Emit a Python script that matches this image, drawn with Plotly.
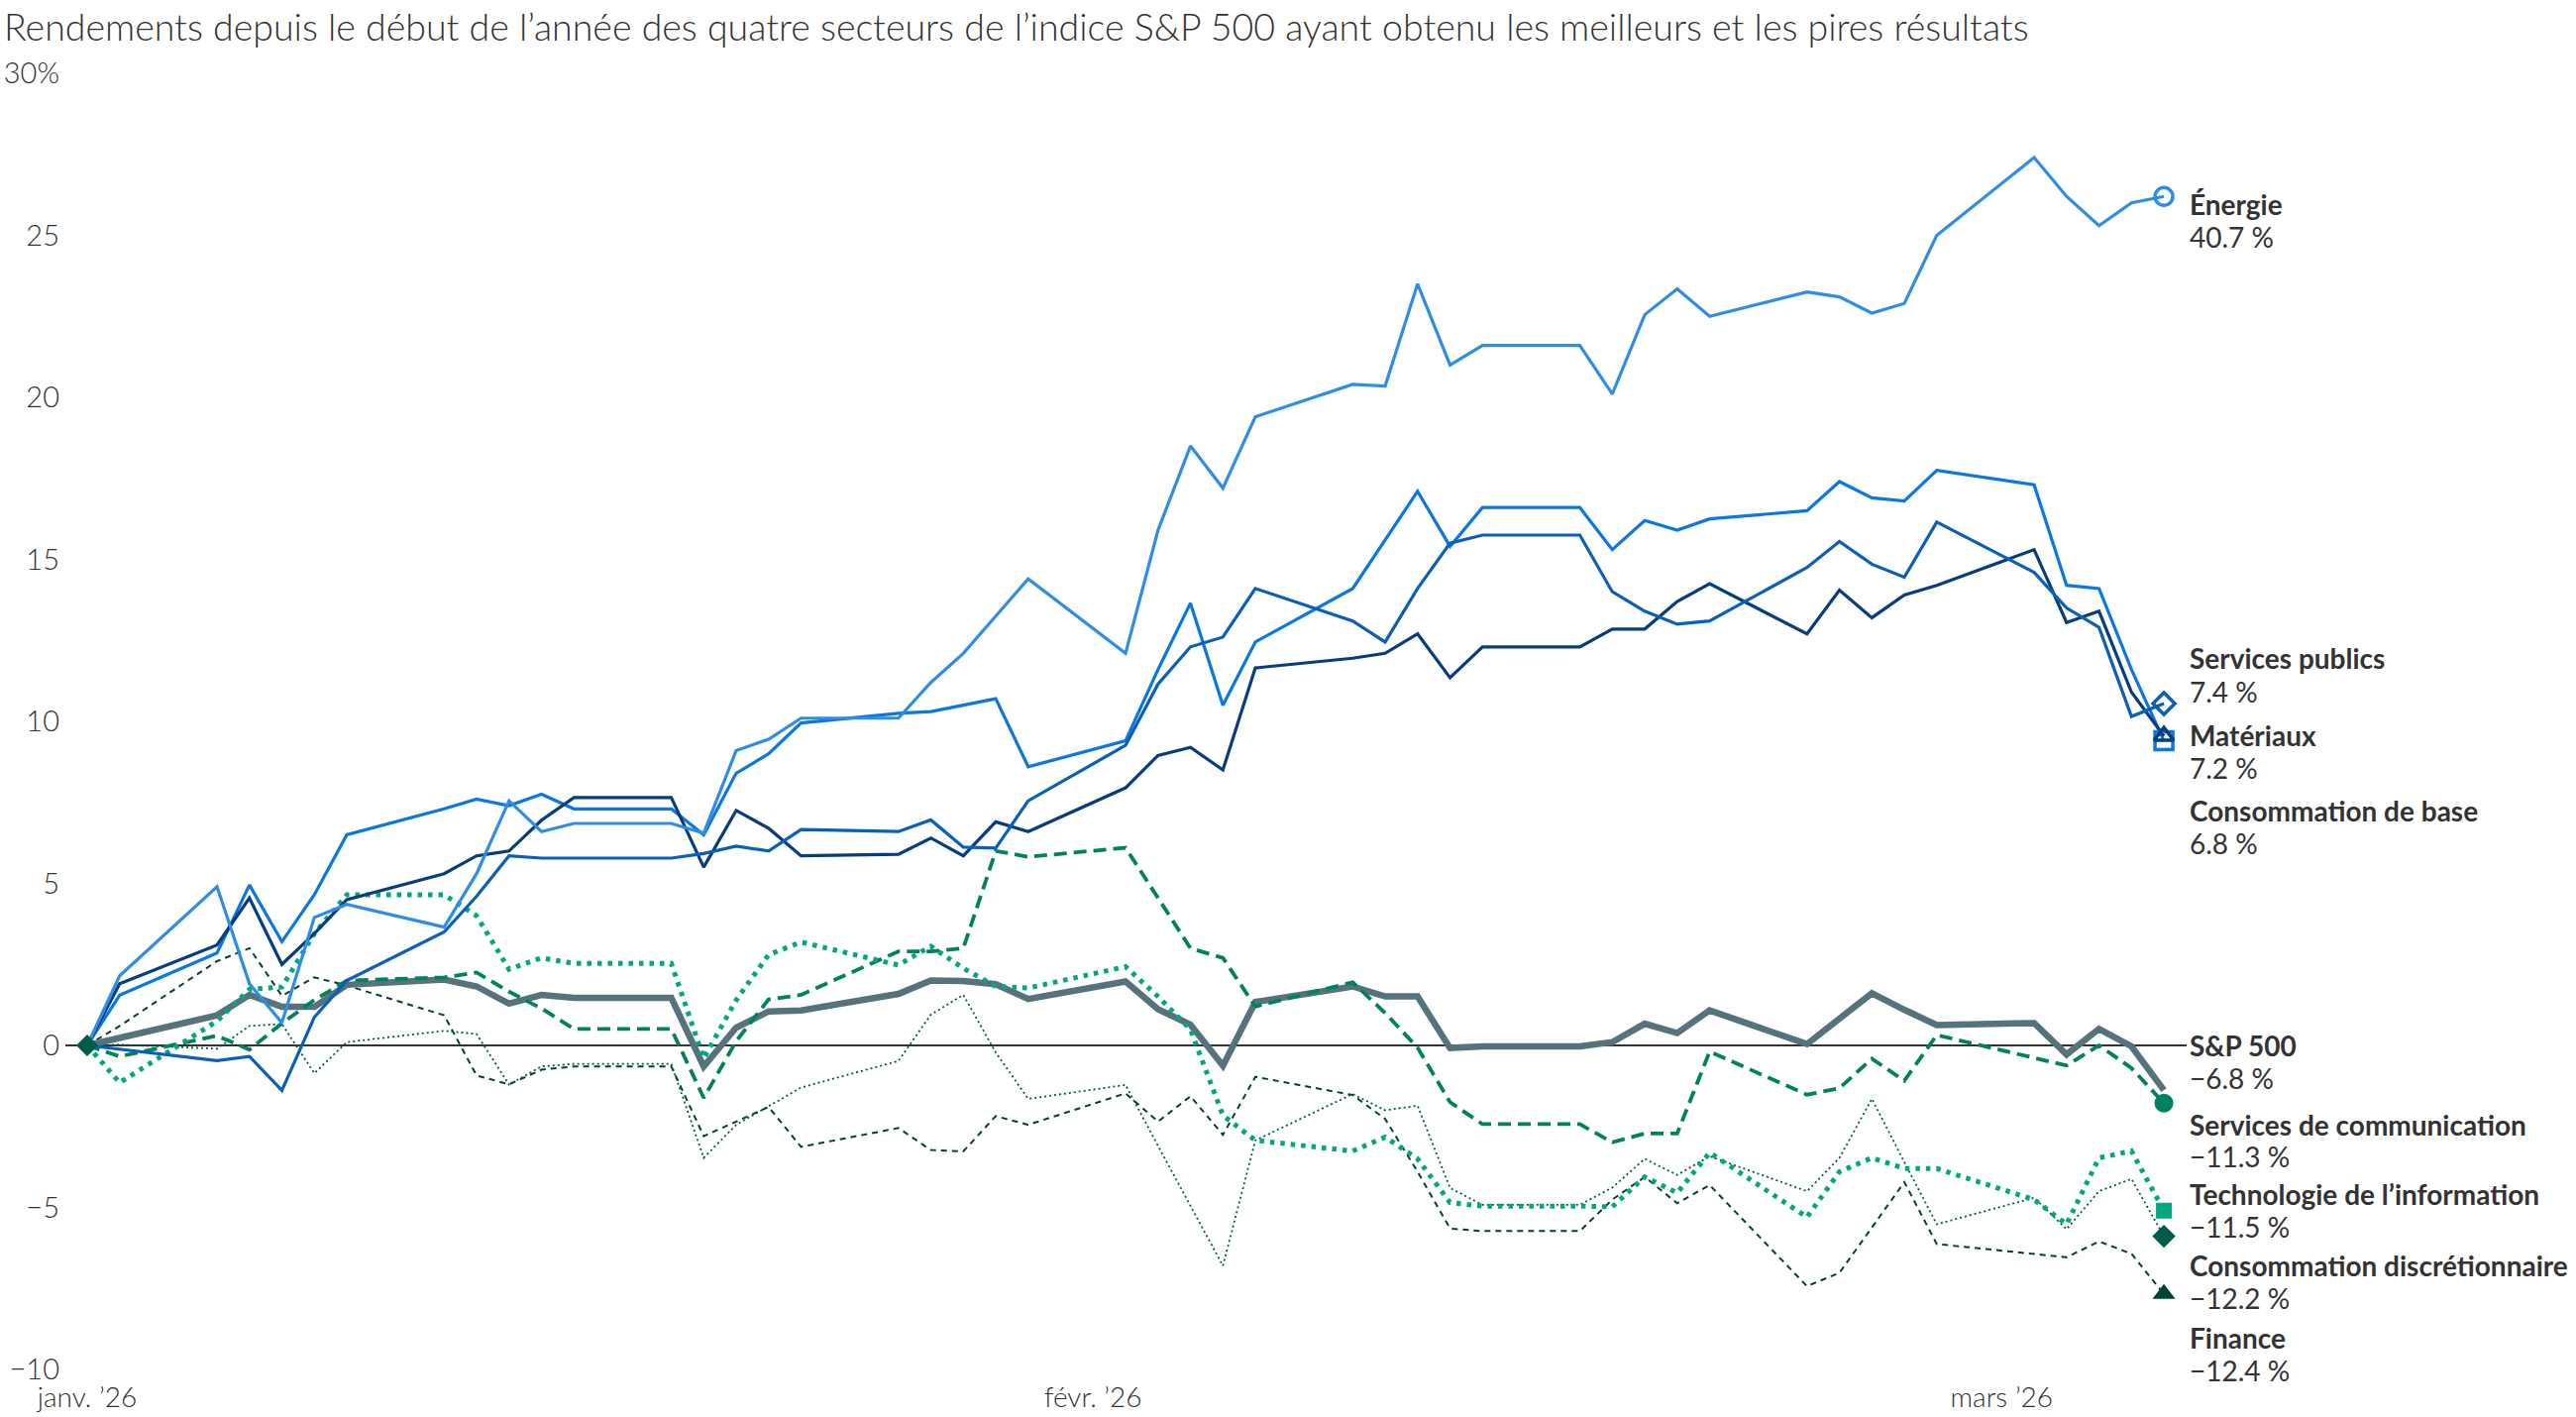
import plotly.graph_objects as go

# ---------------- data ----------------
dates = [
    "2026-01-01", "2026-01-02", "2026-01-05", "2026-01-06", "2026-01-07", "2026-01-08", "2026-01-09",
    "2026-01-12", "2026-01-13", "2026-01-14", "2026-01-15", "2026-01-16",
    "2026-01-19", "2026-01-20", "2026-01-21", "2026-01-22", "2026-01-23",
    "2026-01-26", "2026-01-27", "2026-01-28", "2026-01-29", "2026-01-30",
    "2026-02-02", "2026-02-03", "2026-02-04", "2026-02-05", "2026-02-06",
    "2026-02-09", "2026-02-10", "2026-02-11", "2026-02-12", "2026-02-13",
    "2026-02-16", "2026-02-17", "2026-02-18", "2026-02-19", "2026-02-20",
    "2026-02-23", "2026-02-24", "2026-02-25", "2026-02-26", "2026-02-27",
    "2026-03-02", "2026-03-03", "2026-03-04", "2026-03-05", "2026-03-06",
]

energie = [0, 2.15, 4.9, 1.9, 0.7, 3.95, 4.35, 3.65, 5.3, 7.55, 6.6, 6.85, 6.85, 6.55, 9.1, 9.45,
           10.1, 10.1, 11.2, 12.1, 13.25, 14.4,
           12.1, 15.9, 18.5, 17.2, 19.4, 20.4, 20.35, 23.5, 21.0, 21.6, 21.6, 20.1, 22.55, 23.35,
           22.5, 23.25, 23.1, 22.6, 22.9, 25.0,
           27.4, 26.2, 25.3, 26.0, 26.2]
conso_base = [0, 1.55, 2.85, 4.95, 3.2, 4.65, 6.5, 7.3, 7.6, 7.4, 7.75, 7.3, 7.3, 6.5, 8.4, 9.0,
              9.95, 10.25, 10.3, 10.5, 10.7, 8.6,
              9.4, 11.6, 13.65, 10.5, 12.45, 14.1, 15.6, 17.1, 15.4, 16.6, 16.6, 15.3, 16.2, 15.9,
              16.25, 16.5, 17.4, 16.9, 16.8, 17.75,
              17.3, 14.2, 14.1, 11.6, 9.4]
materiaux = [0, 1.9, 3.1, 4.55, 2.5, 3.45, 4.5, 5.3, 5.85, 6.0, 6.95, 7.65, 7.65, 5.5, 7.25, 6.7,
             5.85, 5.9, 6.4, 5.85, 6.9, 6.6,
             7.95, 8.95, 9.2, 8.5, 11.65, 11.95, 12.1, 12.7, 11.35, 12.3, 12.3, 12.85, 12.85, 13.7,
             14.25, 12.7, 14.05, 13.2, 13.9, 14.2,
             15.3, 13.05, 13.4, 10.9, 9.55]
services_publics = [0, -0.12, -0.47, -0.34, -1.39, 0.87, 2.0, 3.5, 4.6, 5.85, 5.78, 5.78, 5.78, 5.92,
                    6.15, 6.0, 6.66, 6.6, 6.96, 6.12, 6.09, 7.55,
                    9.26, 11.15, 12.3, 12.6, 14.1, 13.1, 12.45, 14.1, 15.5, 15.75, 15.75, 14.0, 13.4,
                    13.0, 13.1, 14.75, 15.55, 14.85, 14.45, 16.15,
                    14.6, 13.5, 12.9, 10.15, 10.55]
sp500 = [0, 0.22, 0.93, 1.56, 1.19, 1.19, 1.87, 2.03, 1.82, 1.29, 1.56, 1.47, 1.47, -0.65, 0.55, 1.05,
         1.08, 1.59, 2.0, 1.99, 1.89, 1.43,
         1.97, 1.12, 0.64, -0.63, 1.34, 1.82, 1.51, 1.51, -0.08, -0.03, -0.03, 0.1, 0.67, 0.38,
         1.08, 0.04, 0.82, 1.61, 1.1, 0.63,
         0.69, -0.28, 0.51, -0.03, -1.38]
services_comm = [0, -0.34, 0.3, -0.13, 0.68, 1.4, 2.0, 2.1, 2.25, 1.66, 1.14, 0.51, 0.51, -1.62, 0.13,
                 1.42, 1.56, 2.9, 2.9, 3.0, 6.0, 5.82,
                 6.1, 4.55, 3.0, 2.7, 1.2, 1.95, 1.0, -0.07, -1.75, -2.43, -2.43, -2.99, -2.72, -2.72,
                 -0.19, -1.52, -1.32, -0.41, -1.09, 0.32,
                 -0.4, -0.62, 0.0, -0.7, -1.78]
technologie = [0, -1.15, 0.75, 1.73, 1.8, 3.45, 4.65, 4.65, 4.0, 2.35, 2.7, 2.53, 2.53, -0.4, 1.4, 2.8,
               3.19, 2.48, 3.06, 2.38, 1.82, 1.77,
               2.43, 1.51, 0.49, -2.16, -2.93, -3.26, -2.83, -3.5, -4.85, -4.96, -4.96, -4.98, -4.06,
               -4.55, -3.31, -5.3, -3.9, -3.47, -3.8, -3.8,
               -4.76, -5.52, -3.47, -3.26, -5.1]
conso_discr = [0, 0.02, -0.1, 0.6, 0.66, -0.86, 0.1, 0.45, 0.35, -1.21, -0.65, -0.57, -0.57, -3.47,
               -2.45, -1.88, -1.3, -0.48, 0.95, 1.56, -0.22, -1.65,
               -1.22, -3.1, -4.95, -6.8, -2.93, -1.5, -2.0, -1.86, -4.4, -4.92, -4.92, -4.39, -3.5,
               -4.0, -3.42, -4.5, -3.47, -1.65, -3.6, -5.52,
               -4.7, -5.67, -4.5, -4.12, -5.89]
finance = [0, 0.6, 2.6, 3.0, 1.53, 2.1, 1.85, 0.93, -0.93, -1.2, -0.75, -0.65, -0.65, -2.8, -2.35, -1.9,
           -3.13, -2.55, -3.23, -3.27, -2.18, -2.45,
           -1.48, -2.35, -1.57, -2.76, -0.97, -1.53, -2.27, -3.9, -5.65, -5.73, -5.73, -4.76, -4.06,
           -4.87, -4.31, -7.43, -7.02, -5.6, -4.22, -6.13,
           -6.45, -6.54, -6.05, -6.43, -7.67]

label_names = ["Énergie", "Services publics", "Matériaux", "Consommation de base", "S&P 500",
               "Services de communication", "Technologie de l’information",
               "Consommation discrétionnaire", "Finance"]
label_values = ["40.7 %", "7.4 %", "7.2 %", "6.8 %", "−6.8 %", "−11.3 %", "−11.5 %", "−12.2 %", "−12.4 %"]

x_tickvals = ["2026-01-01", "2026-02-01", "2026-03-01"]
x_ticktext = ["janv. ’26", "févr. ’26", "mars ’26"]
y_tickvals = [-10, -5, 0, 5, 10, 15, 20, 25, 30]
y_ticktext = ["−10", "−5", "0", "5", "10", "15", "20", "25", "30%"]

title_text = ("Rendements depuis le début de l’année des quatre secteurs de l’indice S&P 500 "
              "ayant obtenu les meilleurs et les pires résultats")

# ---------------- styles ----------------
W, H = 2600, 1430
ML, MR, MT, MB = 66, 393, 74, 48
TXT = "#333333"
FONT = "Lato"

# (values, colour, width, dash, end symbol, end size, filled)
styles = [
    (finance, "#004233", 2, "6px,5px", "triangle-up", 20, True),
    (conso_discr, "#005B4B", 1.8, "2px,3px", "diamond", 18, True),
    (sp500, "#56737C", 6.5, "solid", None, 0, True),
    (services_comm, "#00825F", 3.8, "13px,7px", "circle", 19, True),
    (technologie, "#00A882", 5, "4.5px,6px", "square", 16, True),
    (conso_base, "#0A78E0", 3.2, "solid", "square", 18, False),
    (materiaux, "#063D7E", 3.2, "solid", "triangle-up", 17, False),
    (services_publics, "#0A5FB9", 3.2, "solid", "diamond", 17, False),
    (energie, "#2E8EE6", 3.2, "solid", "circle", 18, False),
]

fig = go.Figure()
for vals, col, w, dash, sym, size, filled in styles:
    fig.add_trace(go.Scatter(x=dates, y=vals, mode="lines",
                             line=dict(color=col, width=w, dash=dash, shape="linear"),
                             hoverinfo="skip"))
for vals, col, w, dash, sym, size, filled in styles:
    if sym is None:
        continue
    fig.add_trace(go.Scatter(
        x=[dates[-1]], y=[vals[-1]], mode="markers",
        marker=dict(symbol=sym, size=size, color=col if filled else "rgba(255,255,255,0)",
                    line=dict(color=col, width=0 if filled else 3.5)),
        hoverinfo="skip"))

# start marker
fig.add_trace(go.Scatter(x=[dates[0]], y=[conso_discr[0]], mode="markers",
                         marker=dict(symbol="diamond", size=17, color="#005B4B"),
                         hoverinfo="skip"))

# ---------------- labels on the right ----------------
name_px = [206, 664, 742, 818, 1055, 1135, 1205, 1277, 1350]
value_px = [239, 698, 775, 851, 1088, 1167, 1238, 1310, 1383]
LABEL_X = 2208


def px_to_paper_y(py):
    return (H - MB - py) / (H - MT - MB)


def px_to_paper_x(px):
    return (px - ML) / (W - ML - MR)


annotations = []
for name, val, ny, vy in zip(label_names, label_values, name_px, value_px):
    annotations.append(dict(text=name, x=px_to_paper_x(LABEL_X), y=px_to_paper_y(ny),
                            xref="paper", yref="paper", xanchor="left", yanchor="middle",
                            showarrow=False,
                            font=dict(family=FONT, size=28, color=TXT, weight=700)))
    annotations.append(dict(text=val, x=px_to_paper_x(LABEL_X), y=px_to_paper_y(vy),
                            xref="paper", yref="paper", xanchor="left", yanchor="middle",
                            showarrow=False,
                            font=dict(family=FONT, size=28, color=TXT, weight=400)))

fig.update_layout(
    width=W, height=H,
    margin=dict(l=ML, r=MR, t=MT, b=MB, pad=0, autoexpand=False),
    paper_bgcolor="white", plot_bgcolor="white",
    showlegend=False,
    font=dict(family=FONT, color=TXT),
    title=dict(text=title_text, x=4 / W, xanchor="left", xref="container",
               y=1 - 28 / H, yanchor="middle", yref="container",
               font=dict(family=FONT, size=37.5, color=TXT, weight=300)),
    xaxis=dict(type="date", range=["2025-12-31 07:52", "2026-03-06 16:48"],
               tickmode="array", tickvals=x_tickvals, ticktext=x_ticktext,
               showgrid=False, zeroline=False, showline=False, automargin=False,
               ticks="outside", ticklen=3, tickcolor="rgba(0,0,0,0)",
               tickfont=dict(family=FONT, size=28, color=TXT, weight=300)),
    yaxis=dict(range=[-10, 30], tickmode="array", tickvals=y_tickvals, ticktext=y_ticktext,
               showgrid=False, zeroline=True, zerolinecolor="#333333", zerolinewidth=2,
               showline=False, automargin=False, ticks="", ticklabelstandoff=5,
               tickfont=dict(family=FONT, size=29, color=TXT, weight=300)),
    annotations=annotations,
)

fig.write_html("out.html")
